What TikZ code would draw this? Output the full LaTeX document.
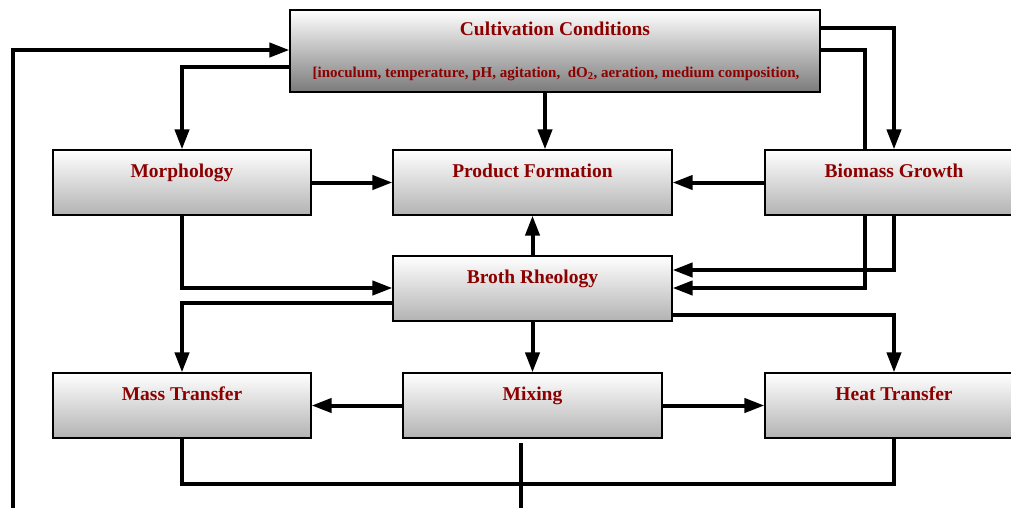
\documentclass[tikz,border=0pt]{standalone}
\usepackage{fontspec}
\setmainfont{Liberation Serif}
\usetikzlibrary{arrows.meta}
\definecolor{darkred}{RGB}{140,0,0}
\begin{document}
\begin{tikzpicture}[x=1pt,y=-1pt,>={Triangle[length=20pt,width=14pt]},line join=miter,
	blk/.style={draw=black,line width=1.2pt,top color=white,bottom color=black!30,inner sep=0pt,
		minimum width=258pt,minimum height=65pt,text height=27pt,text depth=38pt,
		font=\fontsize{19.5}{22}\selectfont\bfseries,text=darkred},
	con/.style={line width=4pt}]
	\useasboundingbox (0,0) rectangle (1011,507);
	\clip (0,0) rectangle (1011,507);
	\node[blk,minimum width=530pt,minimum height=82pt,text height=25pt,text depth=57pt,bottom color=black!52] (cult) at (555,51) {Cultivation Conditions};
	\node[font=\fontsize{15}{17}\selectfont\bfseries,text=darkred,anchor=base] (cultsub) at (556,77) {[inoculum, temperature, pH, agitation,\ \ dO\textsubscript{2}, aeration, medium composition,};
	\node[blk] (morph) at (182,182.5) {Morphology};
	\node[blk,minimum width=279pt] (prod) at (532.5,182.5) {Product Formation};
	\node[blk] (bio) at (894,182.5) {Biomass Growth};
	\node[blk,minimum width=279pt] (broth) at (532.5,288.5) {Broth Rheology};
	\node[blk] (mass) at (182,405.5) {Mass Transfer};
	\node[blk,minimum width=259pt] (mix) at (532.5,405.5) {Mixing};
	\node[blk] (heat) at (894,405.5) {Heat Transfer};
	\coordinate (loopend) at (13,520);
	\coordinate (mixend) at (521,520);
	\draw[con,->] (loopend) |- (cult.west |- 0,50);
	\draw[con,->] (cult.west |- 0,67) -| (morph.north);
	\draw[con,->] (cult.south -| 545,0) -- (prod.north -| 545,0);
	\draw[con,->] (cult.east |- 0,28) -| (bio.north);
	\draw[con] (cult.east |- 0,50) -| (bio.north -| 865,0);
	\draw[con,->] (bio.south -| 865,0) |- (broth.east |- 0,288);
	\draw[con,->] (bio.south) |- (broth.east |- 0,270);
	\draw[con,->] (bio.west) -- (prod.east);
	\draw[con,->] (morph.east) -- (prod.west);
	\draw[con,->] (morph.south) |- (broth.west |- 0,288);
	\draw[con,->] (broth.west |- 0,303) -| (mass.north);
	\draw[con,->] (broth.north) -- (prod.south);
	\draw[con,->] (broth.south) -- (mix.north);
	\draw[con,->] (broth.east |- 0,315) -| (heat.north);
	\draw[con,->] (mix.west) -- (mass.east);
	\draw[con,->] (mix.east) -- (heat.west);
	\draw[con] (mass.south) -- (mass.south |- 0,484) -| (heat.south);
	\draw[con] (mixend |- 0,443) -- (mixend);
\end{tikzpicture}
\end{document}
